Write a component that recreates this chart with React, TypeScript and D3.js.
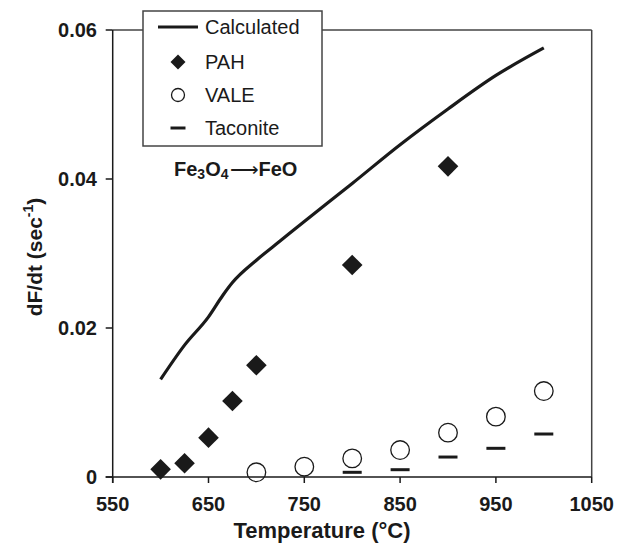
import React from "react";
import * as d3 from "d3";

const calcT = [600, 625, 650, 665, 675, 700, 725, 750, 800, 850, 900, 950, 1000];
const calcV = [0.0131, 0.0177, 0.0215, 0.0244, 0.0261, 0.0291, 0.0317, 0.0343, 0.0394, 0.0446, 0.0494, 0.0539, 0.0576];

const pahT = [600, 625, 650, 675, 700, 800, 900];
const pahV = [0.00103, 0.00184, 0.00528, 0.0102, 0.015, 0.02846, 0.0417];

const valeT = [700, 750, 800, 850, 900, 950, 1000];
const valeV = [0.00063, 0.00138, 0.0025, 0.00362, 0.00595, 0.0081, 0.01154];

const tacT = [800, 850, 900, 950, 1000];
const tacV = [0.00063, 0.00098, 0.00268, 0.00385, 0.00577];

const xTicks = [550, 650, 750, 850, 950, 1050];
const yTicks = [0, 0.02, 0.04, 0.06];
const yTickLabels = ["0", "0.02", "0.04", "0.06"];

const W = 617;
const H = 548;
const L = 112.7, R = 591.7, T = 30, B = 477;
const font = "'Liberation Sans', Arial, sans-serif";
const ink = "#1a1a1a";
const frame = "#444";

export default function App() {
  const x = d3.scaleLinear().domain([550, 1050]).range([L, R]);
  const y = d3.scaleLinear().domain([0, 0.06]).range([B, T]);
  const line = d3.line<number>().x((_, i) => x(calcT[i])).y((v) => y(v)).curve(d3.curveMonotoneX);

  const diamond = (cx: number, cy: number, r: number) =>
    `M${cx},${cy - r}L${cx + r},${cy}L${cx},${cy + r}L${cx - r},${cy}Z`;

  const legX = 178;
  const legTextX = 205;
  const rows = [27, 62, 95, 128];

  return (
    <svg width={W} height={H} style={{ position: "absolute", left: 0, top: 0, background: "#fff" }} fontFamily={font}>
      {/* frame */}
      <line x1={L} x2={R} y1={T} y2={T} stroke={frame} strokeWidth={1.5} />
      <line x1={R} x2={R} y1={T} y2={B} stroke={frame} strokeWidth={1.5} />
      <line x1={L} x2={L} y1={T} y2={B + 6} stroke={ink} strokeWidth={1.5} />
      <line x1={L - 7} x2={R} y1={B} y2={B} stroke={ink} strokeWidth={1.5} />
      {/* y ticks */}
      {yTicks.map((t, i) => (
        <g key={"y" + i}>
          <line x1={L - 7} x2={L} y1={y(t)} y2={y(t)} stroke={ink} strokeWidth={1.5} />
          <text x={97} y={y(t)} dy="0.35em" textAnchor="end" fontSize={20} fontWeight="bold" fill={ink}>
            {yTickLabels[i]}
          </text>
        </g>
      ))}
      {/* x ticks */}
      {xTicks.map((t, i) => (
        <g key={"x" + i}>
          <line x1={x(t)} x2={x(t)} y1={B} y2={B + 6} stroke={ink} strokeWidth={1.5} />
          <text x={x(t)} y={511} textAnchor="middle" fontSize={20} fontWeight="bold" fill={ink}>
            {t}
          </text>
        </g>
      ))}
      {/* axis titles */}
      <text x={322} y={538} textAnchor="middle" fontSize={22} fontWeight="bold" fill={ink}>
        Temperature (°C)
      </text>
      <text transform={`translate(42,257) rotate(-90)`} textAnchor="middle" fontSize={21} fontWeight="bold" fill={ink}>
        dF/dt (sec<tspan dy={-9} fontSize={14}>-1</tspan><tspan dy={9}>)</tspan>
      </text>
      {/* calculated line */}
      <path d={line(calcV) || ""} fill="none" stroke={ink} strokeWidth={3.2} strokeLinejoin="round" />
      {/* PAH */}
      {pahV.map((v, i) => (
        <path key={"p" + i} d={diamond(x(pahT[i]), y(v), 10.3)} fill={ink} />
      ))}
      {/* VALE */}
      {valeV.map((v, i) => (
        <circle key={"v" + i} cx={x(valeT[i])} cy={y(v)} r={9.3} fill="none" stroke={ink} strokeWidth={1.3} />
      ))}
      {/* Taconite */}
      {tacV.map((v, i) => (
        <line key={"t" + i} x1={x(tacT[i]) - 9.5} x2={x(tacT[i]) + 9.5} y1={y(v)} y2={y(v)} stroke={ink} strokeWidth={3} />
      ))}
      {/* annotation */}
      <text x={174} y={176} fontSize={20} fontWeight="bold" fill={ink}>
        Fe<tspan dy={3} fontSize={14}>3</tspan><tspan dy={-3}>O</tspan><tspan dy={3} fontSize={14}>4</tspan>
        <tspan dy={-3} fontWeight="normal" dx={1}>⟶</tspan><tspan>FeO</tspan>
      </text>
      {/* legend */}
      <rect x={143} y={11} width={179} height={135} fill="#fff" stroke={frame} strokeWidth={1.5} />
      <line x1={158} x2={198} y1={rows[0]} y2={rows[0]} stroke={ink} strokeWidth={3.2} />
      <path d={diamond(legX, rows[1], 7.5)} fill={ink} />
      <circle cx={legX} cy={rows[2]} r={6.5} fill="none" stroke={ink} strokeWidth={1.3} />
      <line x1={legX - 7.5} x2={legX + 7.5} y1={rows[3]} y2={rows[3]} stroke={ink} strokeWidth={3} />
      {["Calculated", "PAH", "VALE", "Taconite"].map((s, i) => (
        <text key={s} x={legTextX} y={rows[i]} dy="0.35em" fontSize={20} fill={ink}>
          {s}
        </text>
      ))}
    </svg>
  );
}
